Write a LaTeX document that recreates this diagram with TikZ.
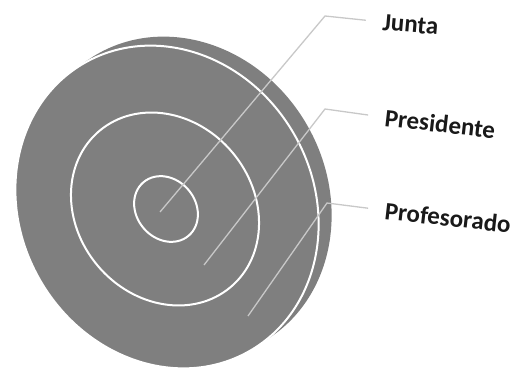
\documentclass[tikz,border=0pt]{standalone}
\usepackage{fontspec}
\setmainfont{Carlito}
\usepackage{tikz}
\usetikzlibrary{positioning, calc}
\definecolor{discgray}{RGB}{127,127,127}
\definecolor{leadgray}{RGB}{200,200,200}

\begin{document}
\begin{tikzpicture}[x=1pt, y=-1pt,
        face/.style={x radius=166, y radius=146.5},
        ring/.style={white, line width=2pt},
        leader/.style={leadgray, line width=1.3pt, shorten >=17pt},
        ringname/.style={anchor=base west, inner sep=0pt, text=black!90,
            font=\fontsize{25}{30}\selectfont\bfseries}]
    \useasboundingbox (0,0) rectangle (516,371);
    \fill [discgray, rotate around={-60:(180,198)}] (180,198) ellipse [face];
    \fill [discgray] (75.1,68.9) -- (88.1,59.9) -- (271.9,336.1) -- (258.9,345.1) -- cycle;
    \fill [discgray, rotate around={-60:(167,207)}] (167,207) ellipse [face];
    \draw [ring, rotate around={-60:(167,207)}] (167,207) ellipse [face];
    \draw [ring, rotate around={-50:(165,209)}] (165,209) ellipse [x radius=102, y radius=88];
    \draw [ring, rotate around={-50:(166,209)}] (166,209) ellipse [x radius=35, y radius=29.5];
    \coordinate (jstart) at (160,212);
    \coordinate (jbend) at (325,16);
    \coordinate (pstart) at (204,265);
    \coordinate (pbend) at (325,109);
    \coordinate (fstart) at (248,316);
    \coordinate (fbend) at (327,203);
    \node [ringname, rotate=-5] (junta) at (382,30) {Junta};
    \node [ringname, rotate=-6.5] (presidente) at (384,126) {Presidente};
    \node [ringname, rotate=-6.5] (profesorado) at (384,219) {Profesorado};
    \draw [leader] (jstart) -- (jbend) -- (junta.west);
    \draw [leader] (pstart) -- (pbend) -- (presidente.west);
    \draw [leader] (fstart) -- (fbend) -- (profesorado.west);
\end{tikzpicture}
\end{document}
